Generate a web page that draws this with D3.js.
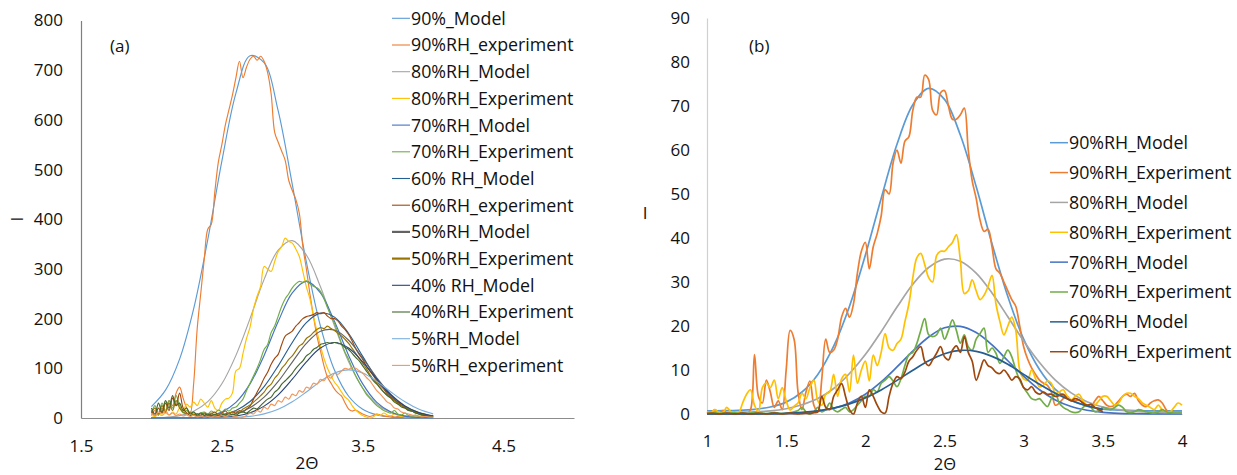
<!DOCTYPE html>
<html>
<head>
<meta charset="utf-8">
<script src="https://cdn.jsdelivr.net/npm/d3@7"></script>
<style>
  html, body { margin: 0; padding: 0; background: #fff; }
  svg { display: block; }
  text { font-family: "Open Sans", sans-serif; fill: #111; }
</style>
</head>
<body>
<svg id="chart" width="1237" height="475"></svg>
<script>
// ---------------- DATA: panel (a) ----------------
// model curves sampled on 2.0 .. 4.0, step 0.1
const xModelA = d3.range(21).map(i => +(2 + i * 0.1).toFixed(2));
// experiment curves sampled on 2.0 .. 4.0, step 0.025
const xExpA = d3.range(81).map(i => +(2 + i * 0.025).toFixed(3));

const namesA = ["90%_Model", "90%RH_experiment", "80%RH_Model", "80%RH_Experiment",
  "70%RH_Model", "70%RH_Experiment", "60% RH_Model", "60%RH_experiment",
  "50%RH_Model", "50%RH_Experiment", "40% RH_Model", "40%RH_Experiment",
  "5%RH_Model", "5%RH_experiment"];

const a90Model = [23,56,118.5,220,359,517,654,729,715,618,470,314,185,96,43.8,17.6,6.2,1.9,0.6,0.15,0.03];
const a90Exp = [5,15,8,20,10,35,25,50,62,40,
  20,10,70,180,250,320,380,390,455,515,
  550,590,620,650,685,718,685,706,722,728,
  720,728,718,695,652,575,555,537,518,478,
  458,440,412,345,300,250,205,165,135,105,
  82,70,58,50,44,30,18,14,16,12,
  8,5,3,5,8,6,4,3,4,2,
  3,2,3,2,2,1,2,1,1,1,
  1];
const a80Model = [0.4,1.6,4.9,13.6,32.8,68.8,126,200,279,338,357,328,264,185,113,60,27.8,11.3,4.0,1.2,0.3];
const a80Exp = [5,3,8,5,10,6,12,8,20,15,
  28,22,32,25,38,30,22,35,20,15,
  30,38,40,50,95,100,130,160,183,220,
  245,265,305,300,295,315,335,345,362,355,
  352,340,325,295,264,240,205,175,145,120,
  100,85,72,63,52,42,36,25,16,10,
  5,2,0,2,8,5,10,6,4,8,
  5,3,5,2,4,2,3,5,3,4,
  5];
const a70Model = [0,0.05,0.24,1.06,3.9,12.1,31.4,68.6,126,194,252,275,252,194,126,68.6,31.4,12.1,3.9,1.06,0.24];
const a70Exp = [10,25,5,30,15,35,20,45,25,10,
  15,8,12,6,10,12,8,14,10,16,
  12,18,14,20,22,30,38,55,70,85,
  100,118,138,148,172,185,205,225,240,250,
  262,270,275,273,276,270,265,262,255,240,
  222,205,190,170,150,132,118,100,85,72,
  60,48,40,32,25,20,15,12,10,15,
  8,6,10,5,4,6,3,2,4,2,
  2];
const a60Model = [0,0.04,0.17,0.64,2.1,6.1,15.2,33.2,63.2,105,152,192,211,203,170,124,78.8,43.6,21.1,8.9,3.3];
const a60Exp = [15,5,20,10,30,15,40,25,50,20,
  10,5,8,4,6,10,5,8,12,6,
  10,14,8,12,10,15,12,18,24,38,
  52,65,80,92,108,120,128,148,165,170,
  175,185,192,200,204,206,208,212,210,212,
  205,200,200,195,185,178,168,155,140,128,
  118,105,95,85,75,65,58,48,42,35,
  32,25,22,16,14,10,8,6,5,4,
  3];
const a50Model = [0,0.02,0.08,0.32,1.1,3.4,9.0,20.8,41.9,73.5,112.6,150,174.6,177,156.5,120.6,81,47.3,24.2,10.8,4.2];
const a50Exp = [10,20,8,25,12,30,15,35,20,12,
  8,12,6,9,5,8,6,10,5,8,
  10,6,10,12,14,12,18,22,26,32,
  38,45,52,62,68,80,88,100,108,118,
  125,135,145,150,160,165,172,178,182,180,
  185,180,176,170,165,158,150,140,130,120,
  110,100,88,78,70,60,52,45,40,35,
  28,25,20,18,14,12,9,8,6,5,
  5];
const a40Model = [0,0,0.02,0.09,0.38,1.34,4.1,10.6,23.9,46.5,78,113,141,152,141,113,78,46.5,23.9,10.6,4.1];
const a40Exp = [20,8,30,12,35,20,45,25,30,15,
  20,8,12,6,10,5,8,5,7,4,
  6,8,5,8,6,10,12,10,15,20,
  18,25,32,38,42,52,58,68,75,82,
  90,100,108,115,125,130,138,142,148,150,
  152,150,152,150,148,142,138,130,122,115,
  105,95,85,75,68,60,52,45,40,32,
  28,22,20,15,14,10,8,6,5,4,
  3];
const a5Model = [0,0,0.005,0.02,0.1,0.37,1.2,3.4,8.2,17.5,32.5,52.3,73.7,90.6,97,90.6,73.7,52.3,32.5,17.5,8.2];
const a5Exp = [10,5,12,8,15,6,10,5,8,4,
  6,3,5,2,4,2,3,2,4,3,
  5,3,6,4,3,0,2,5,10,8,
  15,12,22,18,28,25,35,32,42,38,
  48,45,55,52,62,60,70,68,78,75,
  85,80,90,88,95,100,98,102,100,95,
  90,82,75,65,55,48,40,32,28,20,
  18,12,10,8,6,5,4,3,3,2,
  2];

// ---------------- DATA: panel (b) ----------------
const xModelB = d3.range(31).map(i => +(1 + i * 0.1).toFixed(2));
const xExpB = d3.range(121).map(i => +(1 + i * 0.025).toFixed(3));

const namesB = ["90%RH_Model", "90%RH_Experiment", "80%RH_Model", "80%RH_Experiment",
  "70%RH_Model", "70%RH_Experiment", "60%RH_Model", "60%RH_Experiment"];

const b90Model = [0.7,0.75,0.83,1.06,1.6,2.7,5.0,9.0,15.4,24.5,36.1,49,61.3,70.3,74,71.5,63.4,51.7,38.7,26.7,17,10.1,5.6,3.1,1.8,1.1,0.9,0.8,0.7,0.7,0.7];
const b90Exp = [0.5,0.3,1.0,0.2,0.8,0.3,0.2,0.1,0.2,0.3,
  0.1,1.0,13.5,4,2.5,7.7,5,1.5,3,1,
  10,19,17,5,1,5,7.5,2,0.5,8,
  17,14,14.5,17,22,24,22,25,32,37,
  39,33,38,41,45,51,50,57,60,57,
  62,63,69,72,72,77,76,69,68,73,
  73.5,70,67,67,68,69.5,60,53,49,44,
  41.5,42,38,33,32,30,28,26,24.5,20,
  15.3,12.5,10.5,9,7.7,7,6.5,5,2,2.5,
  3.5,4,3,3,3.2,2.5,2,1.7,3,4,
  3,2,1.7,2,3,4,4.5,4,4.7,3,
  2,1.7,2.5,3,3.2,2.5,1,0.2,0.5,0.5,
  0.5];
const b80Model = [0.3,0.3,0.4,0.5,0.7,1.2,2.1,3.5,5.8,9.2,13.5,18.7,24.3,29.5,33.3,35.2,34.7,32,27.5,22.1,16.6,11.7,7.7,4.8,2.8,1.6,1.0,0.6,0.45,0.35,0.3];
const b80Exp = [0.5,0.3,1,0.3,0.2,1.5,0.5,0.2,0.3,2.5,
  4.5,5.5,2,0.5,6,7,6,7.7,3.5,6,
  3,0.9,1.8,2.5,4.7,3.5,6,7.7,3,2,
  4.5,5,9,4,8,9,5,13.4,7,10,
  12,7.5,13.4,11,14,18.3,15,14.5,16,17,
  21,25,31,35.5,36.5,34,31,30,36,37,
  37,38,39,40.7,35,27.4,28,30.5,28,26,
  27,29,31.5,25,21,18,20,22,19,10,
  8,7.7,10,8,6.2,6.5,7.5,7,4.7,5,
  5.5,4,3.2,4,4.5,3,2,1.5,2,3,
  4,4,3,2,2.5,4,4.7,4.7,4,3.5,
  2.5,2,1.5,1,2,1,0.5,0.5,1.5,2.5,
  2];
const b70Model = [0,0,0,0.01,0.04,0.1,0.27,0.62,1.3,2.5,4.5,7.3,10.7,14.3,17.5,19.6,19.9,18.5,15.7,12.1,8.6,5.5,3.2,1.7,0.85,0.38,0.15,0.06,0.02,0,0];
const b70Exp = [0.2,0.1,0.3,0.1,0.2,0.1,0.2,0.3,0.1,0.2,
  0.1,0.2,0.3,0.1,0.2,0.1,0.2,0.3,0.2,0.1,
  0.2,0.3,0.5,0.8,1.5,0.5,0,0.5,1.5,0.5,
  1,2.5,1,0.5,1,1.5,0.5,1,2,3,
  4,4,5.5,5,7,7.7,8.5,7.5,6.2,8,
  11,13.5,14,16,19,21.7,18,17.6,18,19.5,
  17,19,21.4,19,16.1,18,15.3,14.5,17,18.3,
  19.5,14,15,13.8,11.5,13,14.5,13,10,7.7,
  6,4.7,3.5,3.2,3.5,2.5,1.7,3.5,4.7,2.5,
  1.5,1,0.5,0.3,0.5,1.5,2,1.5,0.5,0.8,
  1.5,1.2,1,1.5,2,1.5,0.5,0.3,0.5,1,
  0.8,0.5,0.3,0.2,0.5,1,0.5,0.3,0.2,0.2,
  0.2];
// 60% series stop at 2θ = 3.5
const b60Model = [0,0,0.01,0.03,0.08,0.17,0.37,0.73,1.33,2.3,3.67,5.48,7.64,9.95,12.1,13.7,14.45,14.25,13.1,11.3,9.0,6.74,4.7,3.06,1.86,1.06];
const b60Exp = [0.1,0.2,0.1,0,0.1,0.2,0.1,0,0.1,0.2,
  0.1,0,0.1,0.2,0.1,0,0.1,0.2,0.1,0,
  0.1,0.2,0.1,0,0.1,0.2,0.1,0.3,0.5,4,
  1.5,1,4,5.5,6.9,4,1,0,2.5,4,
  1.5,5.5,4,2,0.5,0.2,4,7,8.5,8,
  9.5,12,13,14.5,15.3,12,11,12.3,13.8,15.3,
  13,12.3,14.5,15.5,14,17.6,14,12,7.7,10,
  12.3,11,10.5,9.5,9.2,10,9,7.7,8.5,8,
  6,5.5,6.2,5,4.5,5,4.5,4.5,4,4.2,
  4.5,3.5,3,3.5,3.2,2.5,2,2.2,1.5,1,
  0.5];

const ticksAx = [1.5, 2.5, 3.5, 4.5];
const ticksAy = [0, 100, 200, 300, 400, 500, 600, 700, 800];
const ticksBx = [1, 1.5, 2, 2.5, 3, 3.5, 4];
const ticksBy = [0, 10, 20, 30, 40, 50, 60, 70, 80, 90];

// ---------------- STYLE ----------------
const palette = ["#5B9BD5", "#ED7D31", "#A5A5A5", "#FFC000", "#4472C4", "#70AD47",
  "#255E91", "#9E480E", "#636363", "#997300", "#264478", "#43682B", "#7CAFDD", "#F1975A"];

const seriesA = [
  [xModelA, a90Model], [xExpA, a90Exp], [xModelA, a80Model], [xExpA, a80Exp],
  [xModelA, a70Model], [xExpA, a70Exp], [xModelA, a60Model], [xExpA, a60Exp],
  [xModelA, a50Model], [xExpA, a50Exp], [xModelA, a40Model], [xExpA, a40Exp],
  [xModelA, a5Model], [xExpA, a5Exp]
];
const seriesB = [
  [xModelB, b90Model], [xExpB, b90Exp], [xModelB, b80Model], [xExpB, b80Exp],
  [xModelB, b70Model], [xExpB, b70Exp], [xModelB, b60Model], [xExpB, b60Exp]
];

const svg = d3.select("#chart");
const FS = 17;
const LFS = 17.8;

function drawPanel(cfg) {
  const x = d3.scaleLinear().domain(cfg.xDomain).range(cfg.xRange);
  const y = d3.scaleLinear().domain(cfg.yDomain).range(cfg.yRange);
  const g = svg.append("g");

  // axes
  const xa = g.append("g").attr("transform", `translate(0,${cfg.yRange[0]})`)
    .call(d3.axisBottom(x).tickValues(cfg.xTicks).tickFormat(d3.format("")).tickSize(0).tickPadding(cfg.xPad));
  xa.select(".domain").attr("stroke", cfg.xAxisColor).attr("stroke-width", 1);
  const ya = g.append("g").attr("transform", `translate(${cfg.xRange[0]},0)`)
    .call(d3.axisLeft(y).tickValues(cfg.yTicks).tickFormat(d3.format("")).tickSize(0).tickPadding(cfg.yPad));
  ya.select(".domain").attr("stroke", cfg.yAxisColor).attr("stroke-width", 1.2);
  g.selectAll(".tick text").attr("font-size", FS).attr("font-family", '"Open Sans", sans-serif').attr("fill", "#111");

  // lines
  const line = d3.line().curve(d3.curveCatmullRom.alpha(0.5))
    .x(d => x(d[0])).y(d => y(d[1]));
  cfg.series.forEach((s, i) => {
    const pts = s[0].slice(0, s[1].length).map((xv, k) => [xv, s[1][k]]);
    g.append("path").datum(pts)
      .attr("fill", "none")
      .attr("stroke", palette[i])
      .attr("stroke-width", cfg.lineWidth)
      .attr("stroke-linejoin", "round")
      .attr("d", line);
  });

  // legend
  const lg = g.append("g");
  cfg.names.forEach((n, i) => {
    const yy = cfg.legY0 + i * cfg.legDY;
    lg.append("line").attr("x1", cfg.legX).attr("x2", cfg.legX + 18)
      .attr("y1", yy).attr("y2", yy)
      .attr("stroke", palette[i]).attr("stroke-width", cfg.legLineW(i));
    lg.append("text").attr("x", cfg.legX + 19).attr("y", yy).attr("dy", "0.36em")
      .attr("font-size", LFS).text(n);
  });

  // labels
  g.append("text").attr("x", cfg.tag[0]).attr("y", cfg.tag[1]).attr("dy", "0.36em")
    .attr("font-size", FS).text(cfg.tagText);
  g.append("text").attr("x", cfg.xTitle[0]).attr("y", cfg.xTitle[1]).attr("dy", "0.36em")
    .attr("text-anchor", "middle").attr("font-size", cfg.xTitleFS).text("2Θ");
  const yt = g.append("text").attr("font-size", FS).attr("text-anchor", "middle").attr("dy", "0.36em").text("I");
  if (cfg.yTitleRotate) {
    yt.attr("transform", `translate(${cfg.yTitle[0]},${cfg.yTitle[1]}) rotate(-90)`);
  } else {
    yt.attr("x", cfg.yTitle[0]).attr("y", cfg.yTitle[1]);
  }
}

drawPanel({
  xDomain: [1.5, 5], xRange: [81, 574],
  yDomain: [0, 800], yRange: [418, 20.5],
  xTicks: ticksAx, yTicks: ticksAy, xPad: 22, yPad: 18,
  xAxisColor: "#8c8c8c", yAxisColor: "#7f7f7f",
  series: seriesA, lineWidth: 1.15,
  names: namesA, legX: 392, legY0: 18.3, legDY: 26.7,
  legLineW: i => (i === 8 || i === 9) ? 2.2 : 1.1,
  tag: [110, 46], tagText: "(a)",
  xTitle: [307, 463], xTitleFS: 17, yTitle: [17, 219], yTitleRotate: true
});

drawPanel({
  xDomain: [1, 4], xRange: [707, 1182],
  yDomain: [0, 90], yRange: [414, 18],
  xTicks: ticksBx, yTicks: ticksBy, xPad: 21, yPad: 17,
  xAxisColor: "#bfbfbf", yAxisColor: "#d0d0d0",
  series: seriesB, lineWidth: 1.7,
  names: namesB, legX: 1050, legY0: 142.7, legDY: 29.86,
  legLineW: i => 1.5,
  tag: [749, 46], tagText: "(b)",
  xTitle: [945, 464.2], xTitleFS: 16.5, yTitle: [645, 213], yTitleRotate: false
});
</script>
</body>
</html>
